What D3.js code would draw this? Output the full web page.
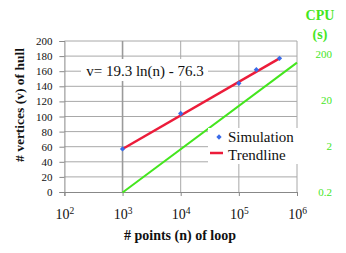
<!DOCTYPE html>
<html>
<head>
<meta charset="utf-8">
<script src="https://cdn.jsdelivr.net/npm/d3@7"></script>
<style>
  body { margin: 0; background: #fff; }
  svg { display: block; font-family: "Liberation Serif", "Times New Roman", serif; }
</style>
</head>
<body>
<svg width="346" height="253"></svg>
<script>
// simulation results: number of points in loop vs vertices of hull
const simN = [1e3, 1e4, 1e5, 2e5, 5e5];
const simV = [57, 104, 144, 162, 177];

// log trendline end points, v = 19.3 ln(n) - 76.3
const trendN = [1e3, 5e5];
const trendV = [57, 177];

// CPU time (s), right axis
const cpuN = [1e3, 1e6];
const cpuT = [0.2, 130];

const xTicks = [2, 3, 4, 5, 6]; // powers of ten
const yTicks = d3.range(0, 201, 20);
const cpuTicks = [0.2, 2, 20, 200];

const green = "#44e61e";
const svg = d3.select("svg");

const x = d3.scaleLog().domain([1e2, 1e6]).range([64.4, 297]);
const y = d3.scaleLinear().domain([0, 200]).range([192, 41]);
const yCpu = d3.scaleLog().domain([0.2, 200]).range([192.5, 54]);

// gridlines
svg.append("g")
  .selectAll("line")
  .data(yTicks.slice(1))
  .join("line")
  .attr("x1", x(1e2)).attr("x2", x(1e6))
  .attr("y1", (d) => y(d)).attr("y2", (d) => y(d))
  .attr("stroke", "#a8a8a8");

svg.append("g")
  .selectAll("line")
  .data(xTicks.slice(1))
  .join("line")
  .attr("x1", (d) => x(10 ** d)).attr("x2", (d) => x(10 ** d))
  .attr("y1", y(200)).attr("y2", y(0))
  .attr("stroke", (d) => (d === 3 ? "#9a9a9a" : "#a8a8a8"))
  .attr("stroke-width", (d) => (d === 3 ? 1.6 : 1));

// left axis
const yAxis = svg.append("g")
  .attr("transform", `translate(${x(1e2)},0)`)
  .call(d3.axisLeft(y).tickValues(yTicks).tickSize(5).tickPadding(7));
yAxis.select(".domain").attr("stroke", "#888");
yAxis.selectAll(".tick line").attr("stroke", "#888");
yAxis.selectAll("text")
  .attr("font-family", "Liberation Serif, serif")
  .attr("font-size", 11)
  .attr("fill", "#111");

// bottom axis
const xAxis = svg.append("g")
  .attr("transform", `translate(0,${y(0)})`)
  .call(d3.axisBottom(x).tickValues(xTicks.map((p) => 10 ** p)).tickSize(4).tickFormat(""));
xAxis.select(".domain").attr("stroke", "#888");
xAxis.selectAll(".tick line").attr("stroke", "#888");
xAxis.selectAll(".tick")
  .append("text")
  .attr("y", 27)
  .attr("text-anchor", "middle")
  .attr("font-family", "Liberation Serif, serif")
  .attr("font-size", 14)
  .attr("fill", "#111")
  .each(function (d) {
    const t = d3.select(this);
    t.append("tspan").text("10");
    t.append("tspan").attr("dy", -5).attr("font-size", 9.5).text(Math.round(Math.log10(d)));
  });

// right axis labels (CPU)
svg.append("g")
  .selectAll("text")
  .data(cpuTicks)
  .join("text")
  .attr("x", 332)
  .attr("y", (d) => yCpu(d))
  .attr("dy", "0.35em")
  .attr("text-anchor", "end")
  .attr("font-size", 11)
  .attr("fill", green)
  .text((d) => d);

svg.append("text")
  .attr("x", 320).attr("y", 20)
  .attr("text-anchor", "middle")
  .attr("font-size", 14).attr("font-weight", "bold")
  .attr("fill", green)
  .text("CPU");
svg.append("text")
  .attr("x", 320).attr("y", 39)
  .attr("text-anchor", "middle")
  .attr("font-size", 14).attr("font-weight", "bold")
  .attr("fill", green)
  .text("(s)");

// CPU line
svg.append("path")
  .datum(cpuN.map((n, i) => [n, cpuT[i]]))
  .attr("fill", "none")
  .attr("stroke", green)
  .attr("stroke-width", 2)
  .attr("d", d3.line().x((d) => x(d[0])).y((d) => yCpu(d[1])));

// trendline
svg.append("path")
  .datum(trendN.map((n, i) => [n, trendV[i]]))
  .attr("fill", "none")
  .attr("stroke", "#ec1c3a")
  .attr("stroke-width", 2.5)
  .attr("d", d3.line().x((d) => x(d[0])).y((d) => y(d[1])));

// simulation points (square turned 45 degrees)
const diamond = d3.symbol().type(d3.symbolSquare).size(14);
svg.append("g")
  .selectAll("path")
  .data(simN.map((n, i) => [n, simV[i]]))
  .join("path")
  .attr("transform", (d) => `translate(${x(d[0])},${y(d[1])}) rotate(45)`)
  .attr("d", diamond)
  .attr("fill", "#3a6be8");

// equation label
svg.append("rect")
  .attr("x", 81).attr("y", 59).attr("width", 127).attr("height", 22)
  .attr("fill", "#fff");
svg.append("text")
  .attr("x", 145).attr("y", 71)
  .attr("dy", "0.35em")
  .attr("text-anchor", "middle")
  .attr("font-size", 15)
  .attr("fill", "#111")
  .text("v= 19.3 ln(n) - 76.3");

// legend
svg.append("rect")
  .attr("x", 208).attr("y", 128).attr("width", 92).attr("height", 36)
  .attr("fill", "#fff");
svg.append("path")
  .attr("transform", "translate(219,137) rotate(45)")
  .attr("d", diamond)
  .attr("fill", "#3a6be8");
svg.append("line")
  .attr("x1", 210).attr("x2", 223).attr("y1", 153).attr("y2", 153)
  .attr("stroke", "#ec1c3a").attr("stroke-width", 2.5);
svg.append("text")
  .attr("x", 228).attr("y", 137).attr("dy", "0.35em")
  .attr("font-size", 15).attr("fill", "#111")
  .text("Simulation");
svg.append("text")
  .attr("x", 228).attr("y", 155).attr("dy", "0.35em")
  .attr("font-size", 15).attr("fill", "#111")
  .text("Trendline");

// axis titles
svg.append("text")
  .attr("transform", "translate(24,105) rotate(-90)")
  .attr("text-anchor", "middle")
  .attr("font-size", 13.5).attr("font-weight", "bold")
  .attr("fill", "#111")
  .text("# vertices (v) of hull");
svg.append("text")
  .attr("x", 180).attr("y", 240)
  .attr("text-anchor", "middle")
  .attr("font-size", 14).attr("font-weight", "bold")
  .attr("fill", "#111")
  .text("# points (n) of loop");
</script>
</body>
</html>
